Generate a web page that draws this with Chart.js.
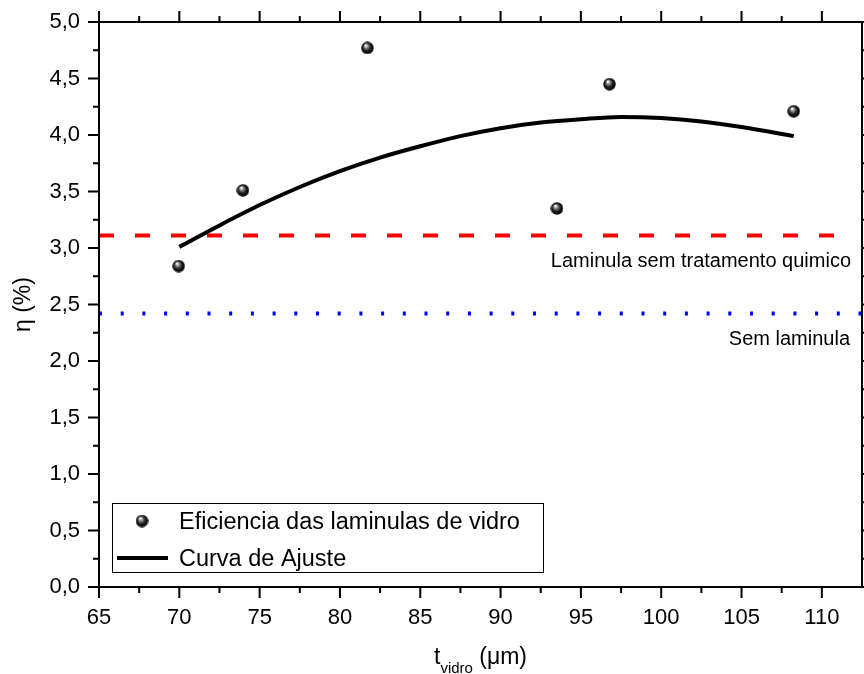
<!DOCTYPE html>
<html>
<head>
<meta charset="utf-8">
<script src="https://cdn.jsdelivr.net/npm/chart.js@4.4.1/dist/chart.umd.min.js"></script>
<style>
  body { margin: 0; background: #fff; }
  canvas { display: block; }
</style>
</head>
<body>
<canvas id="chart" width="864" height="674"></canvas>
<script>
// measured points (t_vidro in um, efficiency in %)
const thickness = [69.96, 73.96, 81.71, 93.51, 96.78, 108.25];
const efficiency = [2.84, 3.51, 4.77, 3.35, 4.45, 4.21];

// fit curve
const fitX = [70, 72.5, 75, 77.5, 80, 82.5, 85, 87.5, 90, 92.5, 95, 97.5, 100, 102.5, 105, 108.25];
const fitY = [3.01, 3.20, 3.38, 3.54, 3.68, 3.80, 3.90, 3.99, 4.06, 4.11, 4.14, 4.16, 4.15, 4.12, 4.07, 3.99];

// reference levels
const untreatedLevel = 3.11;   // Laminula sem tratamento quimico
const noSlideLevel = 2.42;     // Sem laminula

const xTicks = [65, 70, 75, 80, 85, 90, 95, 100, 105, 110];
const yTicks = [0, 0.5, 1, 1.5, 2, 2.5, 3, 3.5, 4, 4.5, 5];
const xRange = [65, 112.5];
const yRange = [0, 5];

const FONT = "'Liberation Sans', Arial, sans-serif";

// little shaded ball for the markers
function makeBall(size) {
    const c = document.createElement('canvas');
    c.width = size; c.height = size;
    const g = c.getContext('2d');
    const r = size / 2;
    const grad = g.createRadialGradient(r * 0.75, r * 0.6, 0.5, r, r, r);
    grad.addColorStop(0, '#ffffff');
    grad.addColorStop(0.25, '#8a8a8a');
    grad.addColorStop(0.6, '#1a1a1a');
    grad.addColorStop(1, '#000000');
    g.fillStyle = grad;
    g.beginPath();
    g.arc(r, r, r - 0.3, 0, Math.PI * 2);
    g.fill();
    return c;
}
const ball = makeBall(13);

const frameAndLabels = {
    id: 'frameAndLabels',
    beforeDraw(chart) {
        const ctx = chart.ctx;
        ctx.save();
        ctx.fillStyle = '#fff';
        ctx.fillRect(0, 0, chart.width, chart.height);
        ctx.restore();
    },
    afterDraw(chart) {
        const ctx = chart.ctx;
        const a = chart.chartArea;
        const xs = chart.scales.x, ys = chart.scales.y;
        ctx.save();
        ctx.strokeStyle = '#000';
        ctx.lineWidth = 2;
        ctx.strokeRect(a.left, a.top, a.right - a.left, a.bottom - a.top);

        // ticks on all four sides, pointing out
        ctx.beginPath();
        xTicks.forEach((v, i) => {
            const px = xs.getPixelForValue(v);
            ctx.moveTo(px, a.bottom); ctx.lineTo(px, a.bottom + 11);
            ctx.moveTo(px, a.top); ctx.lineTo(px, a.top - 11);
            const m = v + 2.5;
            if (m < xRange[1]) {
                const pm = xs.getPixelForValue(m);
                ctx.moveTo(pm, a.bottom); ctx.lineTo(pm, a.bottom + 6);
                ctx.moveTo(pm, a.top); ctx.lineTo(pm, a.top - 6);
            }
        });
        yTicks.forEach(v => {
            const py = ys.getPixelForValue(v);
            ctx.moveTo(a.left, py); ctx.lineTo(a.left - 11, py);
            ctx.moveTo(a.right, py); ctx.lineTo(a.right + 11, py);
            const m = v + 0.25;
            if (m < yRange[1]) {
                const pm = ys.getPixelForValue(m);
                ctx.moveTo(a.left, pm); ctx.lineTo(a.left - 6, pm);
                ctx.moveTo(a.right, pm); ctx.lineTo(a.right + 6, pm);
            }
        });
        ctx.stroke();

        // level labels
        ctx.fillStyle = '#000';
        ctx.font = '20px ' + FONT;
        ctx.textAlign = 'right';
        ctx.textBaseline = 'alphabetic';
        ctx.fillText('Laminula sem tratamento quimico', 851, ys.getPixelForValue(untreatedLevel) + 31);
        ctx.fillText('Sem laminula', 850, ys.getPixelForValue(noSlideLevel) + 31);

        // legend box
        ctx.lineWidth = 1;
        ctx.strokeRect(112.5, 503.5, 431, 69);
        ctx.drawImage(ball, 142 - 6.5, 521 - 6.5);
        ctx.lineWidth = 4;
        ctx.beginPath();
        ctx.moveTo(117, 558); ctx.lineTo(168, 558);
        ctx.stroke();
        ctx.font = '23.5px ' + FONT;
        ctx.textAlign = 'left';
        ctx.fillText('Eficiencia das laminulas de vidro', 179, 529);
        ctx.fillText('Curva de Ajuste', 179, 566);

        // x title with subscript
        const big = '23px ' + FONT, small = '15px ' + FONT;
        ctx.font = big; const wT = ctx.measureText('t').width;
        const wP = ctx.measureText(' (\u03bcm)').width;
        ctx.font = small; const wS = ctx.measureText('vidro').width;
        let x0 = (a.left + a.right) / 2 - (wT + wS + wP) / 2;
        const base = 664;
        ctx.font = big; ctx.fillText('t', x0, base);
        ctx.font = small; ctx.fillText('vidro', x0 + wT, base + 9);
        ctx.font = big; ctx.fillText(' (\u03bcm)', x0 + wT + wS, base);

        // y title
        ctx.translate(30, (a.top + a.bottom) / 2);
        ctx.rotate(-Math.PI / 2);
        ctx.textAlign = 'center';
        ctx.font = big;
        ctx.fillText('\u03b7 (%)', 0, 0);
        ctx.restore();
    }
};

new Chart(document.getElementById('chart'), {
    type: 'scatter',
    data: {
        datasets: [
            {
                label: 'Eficiencia das laminulas de vidro',
                data: thickness.map((t, i) => ({ x: t, y: efficiency[i] })),
                pointStyle: ball,
                pointRadius: 6.5,
                showLine: false
            },
            {
                label: 'Curva de Ajuste',
                type: 'line',
                data: fitX.map((t, i) => ({ x: t, y: fitY[i] })),
                borderColor: '#000',
                borderWidth: 4,
                pointRadius: 0,
                cubicInterpolationMode: 'monotone',
                fill: false
            },
            {
                label: 'Laminula sem tratamento quimico',
                type: 'line',
                data: [{ x: xRange[0], y: untreatedLevel }, { x: 110.9, y: untreatedLevel }],
                borderColor: '#ff0000',
                borderWidth: 4,
                borderDash: [15, 21],
                pointRadius: 0
            },
            {
                label: 'Sem laminula',
                type: 'line',
                data: [{ x: xRange[0], y: noSlideLevel }, { x: xRange[1], y: noSlideLevel }],
                borderColor: '#0000ff',
                borderWidth: 4,
                borderDash: [3, 18.7],
                pointRadius: 0
            }
        ]
    },
    options: {
        responsive: false,
        animation: false,
        devicePixelRatio: 1,
        layout: { autoPadding: false, padding: { top: 22, right: 2, left: 0, bottom: 0 } },
        plugins: { legend: { display: false }, tooltip: { enabled: false } },
        scales: {
            x: {
                type: 'linear',
                min: xRange[0], max: xRange[1],
                afterBuildTicks: s => { s.ticks = xTicks.map(v => ({ value: v })); },
                afterFit: s => { s.height = 87; s.paddingLeft = 0; s.paddingRight = 0; },
                grid: { display: false, drawTicks: false },
                border: { display: false },
                ticks: { color: '#000', font: { family: FONT, size: 22 }, padding: 18, maxRotation: 0 }
            },
            y: {
                type: 'linear',
                min: yRange[0], max: yRange[1],
                afterBuildTicks: s => { s.ticks = yTicks.map(v => ({ value: v })); },
                afterFit: s => { s.width = 99; s.paddingTop = 0; s.paddingBottom = 0; },
                grid: { display: false, drawTicks: false },
                border: { display: false },
                ticks: {
                    color: '#000', font: { family: FONT, size: 22 }, padding: 19,
                    callback: v => v.toFixed(1).replace('.', ',')
                }
            }
        }
    },
    plugins: [frameAndLabels]
});
</script>
</body>
</html>
